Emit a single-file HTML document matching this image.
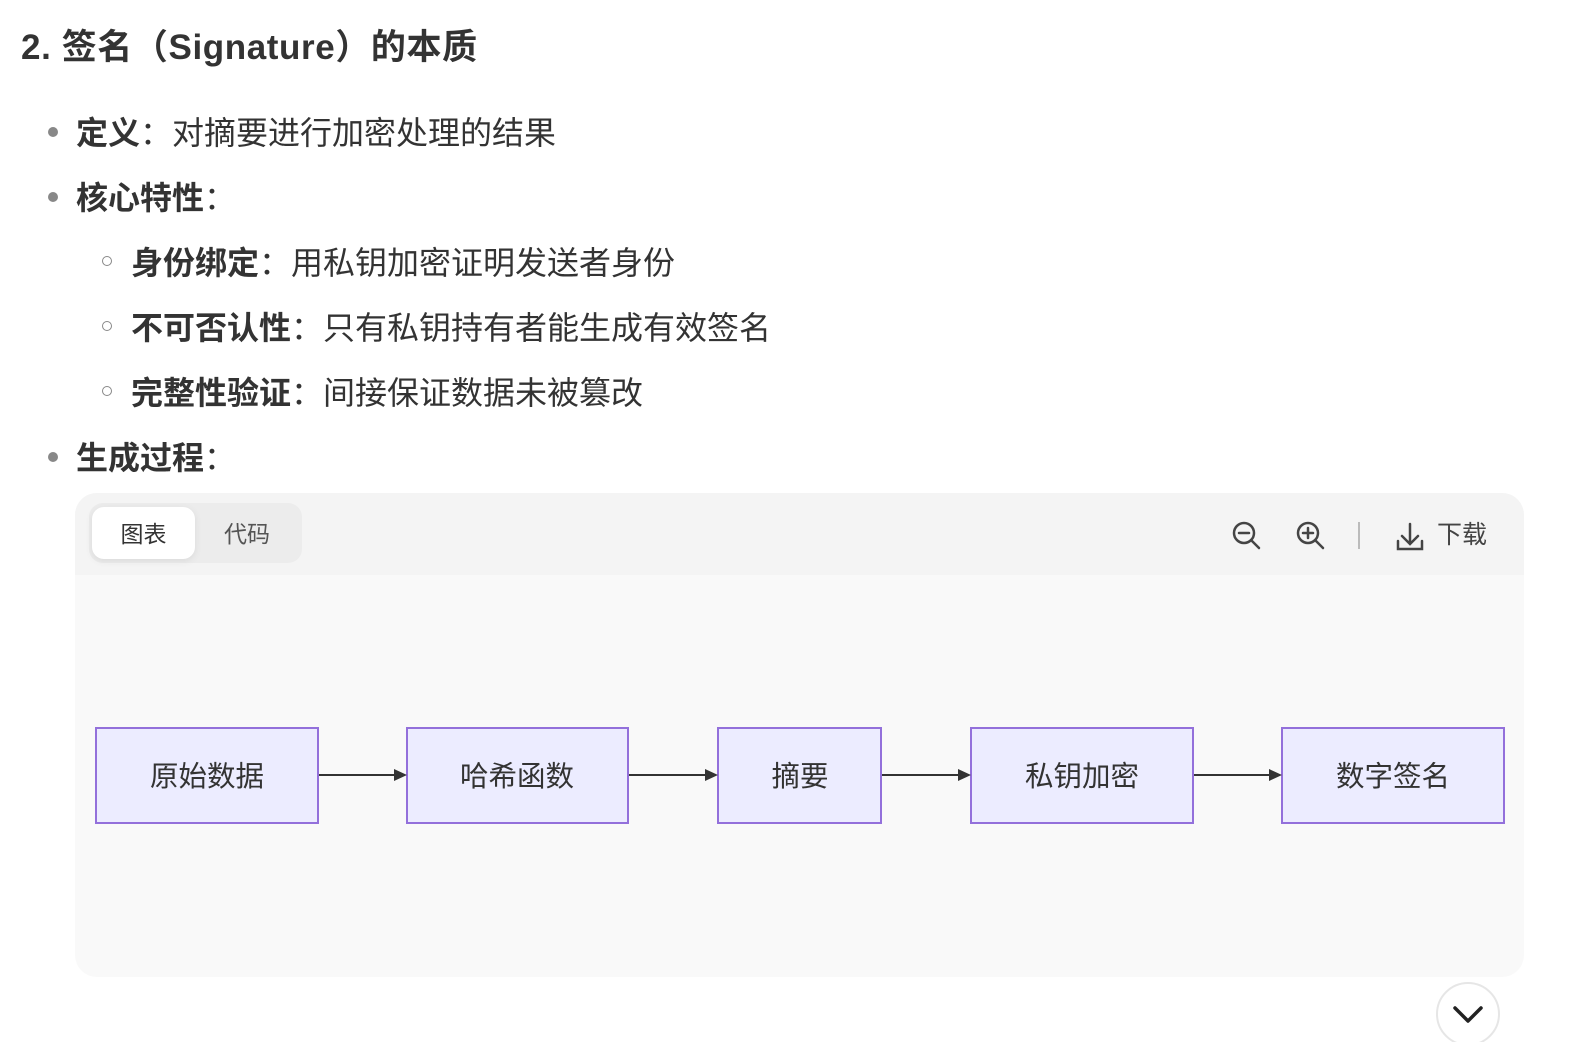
<!DOCTYPE html>
<html><head><meta charset="utf-8"><style>
html,body{margin:0;padding:0;background:#fff;width:1590px;height:1042px;overflow:hidden;position:relative;
font-family:"Liberation Sans","Noto Sans CJK SC",sans-serif;color:#333;}
.a{position:absolute;white-space:nowrap;}
h1{position:absolute;left:21px;top:25px;margin:0;font-size:35px;font-weight:bold;line-height:46px;color:#333;letter-spacing:0.6px;}
.li{position:absolute;font-size:32px;line-height:40px;white-space:nowrap;color:#333;}
.li b{font-weight:bold;}
.dot{position:absolute;width:10px;height:10px;border-radius:50%;background:#888;}
.circ{position:absolute;width:8px;height:8px;border-radius:50%;border:1.5px solid #888;}
</style></head><body>
<h1>2. 签名（Signature）的本质</h1>

<div class="dot" style="left:48px;top:127px"></div>
<div class="li" style="left:76px;top:113px"><b>定义</b>：对摘要进行加密处理的结果</div>
<div class="dot" style="left:48px;top:192px"></div>
<div class="li" style="left:76px;top:178px"><b>核心特性</b>：</div>
<div class="circ" style="left:102px;top:256px"></div>
<div class="li" style="left:131px;top:243px"><b>身份绑定</b>：用私钥加密证明发送者身份</div>
<div class="circ" style="left:102px;top:321px"></div>
<div class="li" style="left:131px;top:308px"><b>不可否认性</b>：只有私钥持有者能生成有效签名</div>
<div class="circ" style="left:102px;top:386px"></div>
<div class="li" style="left:131px;top:373px"><b>完整性验证</b>：间接保证数据未被篡改</div>
<div class="dot" style="left:48px;top:452px"></div>
<div class="li" style="left:76px;top:438px"><b>生成过程</b>：</div>

<div class="a" style="left:75px;top:493px;width:1449px;height:484px;border-radius:22px;background:#f9f9f9;overflow:hidden">
  <div style="position:absolute;left:0;top:0;width:100%;height:82px;background:#f4f4f4"></div>
</div>
<div class="a" style="left:89px;top:503px;width:213px;height:60px;border-radius:14px;background:#ececec"></div>
<div class="a" style="left:92px;top:507px;width:103px;height:52px;border-radius:12px;background:#fff;box-shadow:0 2px 8px rgba(0,0,0,0.08)"></div>
<div class="a" style="left:92px;top:508px;width:103px;line-height:52px;text-align:center;font-size:23px;color:#333">图表</div>
<div class="a" style="left:197px;top:508px;width:100px;line-height:52px;text-align:center;font-size:23px;color:#555">代码</div>

<svg class="a" style="left:0;top:0" width="1590" height="1042">
  <g fill="none" stroke="#444" stroke-width="2.5" stroke-linecap="round">
    <circle cx="1244" cy="533" r="10"/><line x1="1251" y1="540" x2="1259" y2="548"/><line x1="1239" y1="533" x2="1249" y2="533"/>
    <circle cx="1308" cy="533" r="10"/><line x1="1315" y1="540" x2="1323" y2="548"/><line x1="1303" y1="533" x2="1313" y2="533"/><line x1="1308" y1="528" x2="1308" y2="538"/>
    <path d="M1410 524 V543 M1402 536 L1410 544 L1418 536 M1398 541 V549 H1422 V541"/>
  </g>
  <line x1="1359" y1="522" x2="1359" y2="549" stroke="#bbb" stroke-width="2"/>
  <text x="1437" y="543" font-size="25" fill="#444" font-family="Liberation Sans, Noto Sans CJK SC, sans-serif">下载</text>

  <g fill="#ececff" stroke="#9370db" stroke-width="2">
    <rect x="96" y="728" width="222" height="95"/>
    <rect x="407" y="728" width="221" height="95"/>
    <rect x="718" y="728" width="163" height="95"/>
    <rect x="971" y="728" width="222" height="95"/>
    <rect x="1282" y="728" width="222" height="95"/>
  </g>
  <g stroke="#333" stroke-width="2">
    <line x1="319" y1="775" x2="396" y2="775"/><line x1="629" y1="775" x2="707" y2="775"/>
    <line x1="882" y1="775" x2="960" y2="775"/><line x1="1194" y1="775" x2="1271" y2="775"/>
  </g>
  <g fill="#333">
    <path d="M394 769 L407 775 L394 781Z"/><path d="M705 769 L718 775 L705 781Z"/>
    <path d="M958 769 L971 775 L958 781Z"/><path d="M1269 769 L1282 775 L1269 781Z"/>
  </g>
  <g font-size="28.5" fill="#333" text-anchor="middle" font-family="Liberation Sans, Noto Sans CJK SC, sans-serif">
    <text x="207" y="786">原始数据</text>
    <text x="517" y="786">哈希函数</text>
    <text x="800" y="786">摘要</text>
    <text x="1082" y="786">私钥加密</text>
    <text x="1393" y="786">数字签名</text>
  </g>
  <circle cx="1468" cy="1014" r="31" fill="#fff" stroke="#e6e6e6" stroke-width="2"/>
  <path d="M1455 1008 L1468 1021 L1481 1008" fill="none" stroke="#222" stroke-width="3.5" stroke-linecap="round" stroke-linejoin="round"/>
</svg>
</body></html>
